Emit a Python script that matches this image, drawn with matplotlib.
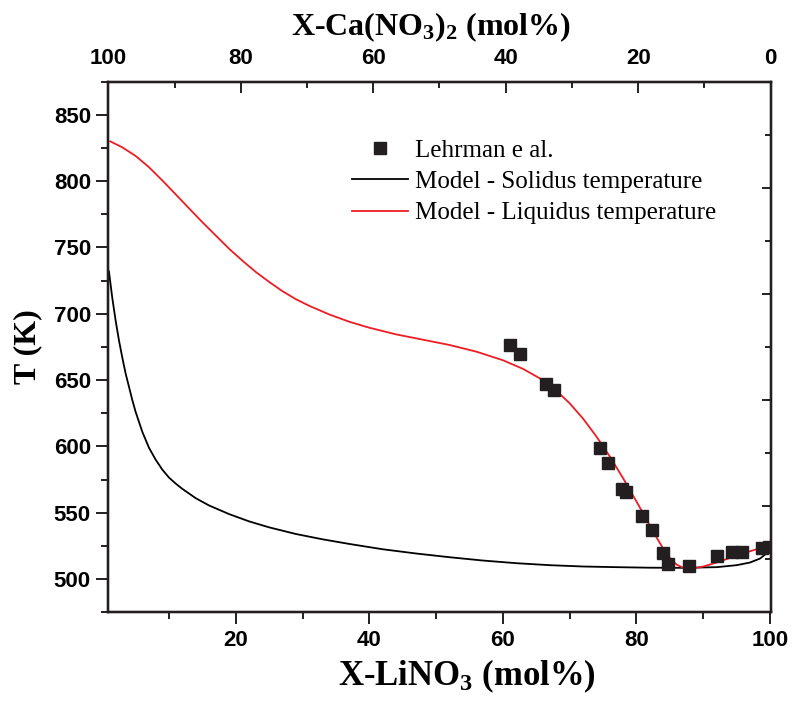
import numpy as np
import matplotlib
matplotlib.use("Agg")
import matplotlib.pyplot as plt
from matplotlib.ticker import MultipleLocator

# LiNO3 - Ca(NO3)2 phase diagram: model curves vs. Lehrman et al. data

# experimental points (Lehrman e al.)
exp_x = [61.0, 62.6, 66.5, 67.6, 74.6, 75.7, 77.9, 78.5, 80.8, 82.4,
         84.0, 84.7, 87.9, 92.0, 94.3, 95.8, 98.8, 99.8]
exp_T = [676.4, 669.7, 647.1, 642.6, 599.1, 587.8, 567.6, 565.3, 547.3, 536.8,
         519.5, 511.3, 509.8, 517.3, 520.3, 520.3, 523.3, 524.0]

# model - solidus
sol_x = [1, 1.5, 2, 2.5, 3, 3.5, 4, 4.5, 5, 6, 7, 8, 9, 10, 11, 12, 14, 16,
         19, 22, 25, 29, 33, 37, 42, 47, 52, 57, 62, 67, 72, 77, 82, 87, 92,
         95, 97, 98.5, 99.5, 100]
sol_T = [732, 712, 695, 680, 667, 655, 645, 635, 626, 611, 599, 590, 582.5,
         576.5, 572, 568, 561, 555.5, 549, 543.5, 539, 534, 530, 526.5, 522.5,
         519.3, 516.5, 514, 512, 510.5, 509.5, 509, 508.6, 508.5, 509, 510.5,
         512.5, 515.5, 519.5, 523]

# model - liquidus
liq_x = [1.2, 3, 5, 7, 9, 11, 13, 15, 17, 19, 21, 23, 25, 27, 29, 31, 34, 37,
         40, 44, 48, 52, 56, 60, 63, 66, 68, 70, 72, 74, 76, 78, 80, 82, 83, 84,
         85, 86, 87, 88, 89, 90, 92, 94, 96, 98, 100]
liq_T = [830, 825.5, 819, 810.5, 800.5, 790, 779.5, 769, 759, 749, 740, 731.5,
         724, 717, 711, 706, 699.5, 694, 689.5, 684.5, 680.5, 676.5, 671.5, 665,
         658.5, 650, 642, 632.5, 621, 607.5, 592.5, 576, 558.5, 540.5, 531.5, 523,
         516, 511, 508.5, 508, 508.5, 509.5, 512.5, 516, 519.5, 522.5, 525]

x_ticks = [20, 40, 60, 80, 100]
top_ticks = [100, 80, 60, 40, 20, 0]
y_ticks = [500, 550, 600, 650, 700, 750, 800, 850]

plt.rcParams['mathtext.fontset'] = 'custom'
plt.rcParams['mathtext.rm'] = 'Liberation Serif:bold'
plt.rcParams['mathtext.bf'] = 'Liberation Serif:bold'
plt.rcParams['mathtext.it'] = 'Liberation Serif:bold'

tick_font = dict(family='Liberation Sans', weight='bold', size=16)
label_font = dict(family='Liberation Serif', weight='bold', size=23)

fig = plt.figure(figsize=(7.92, 7.04), dpi=100)
ax = fig.add_axes([0.1367, 0.1303, 0.9731 - 0.1367, 0.884 - 0.1303])

ax.plot(exp_x, exp_T, 's', color='#231f20', markersize=8.4, label='Lehrman e al.', zorder=3)
ax.plot(sol_x, sol_T, '-', color='#000000', lw=1.3, label='Model - Solidus temperature')
ax.plot(liq_x, liq_T, '-', color='#ee1c24', lw=1.3, label='Model - Liquidus temperature')

ax.set_xlim(0.9, 100.1)
ax.set_ylim(475, 875)

ax.set_xticks(x_ticks)
ax.set_xticklabels([str(v) for v in x_ticks], fontdict=tick_font)
ax.xaxis.set_minor_locator(MultipleLocator(10))
ax.set_yticks(y_ticks)
ax.set_yticklabels([str(v) for v in y_ticks], fontdict=tick_font)
ax.yaxis.set_minor_locator(MultipleLocator(25))
ax.tick_params(which='major', direction='out', length=8.5, width=1.4, color='#231f20', pad=4)
ax.tick_params(which='minor', direction='out', length=5, width=1.4, color='#231f20')

ax.set_xlabel('X-LiNO$_3$ (mol%)', fontdict=dict(label_font, size=25))
ax.xaxis.set_label_coords(0.542, -0.085)
ax.set_ylabel('T (K)', fontdict=label_font, labelpad=8)

for s in ax.spines.values():
    s.set_linewidth(1.6)
    s.set_color('#231f20')

# top axis: Ca(NO3)2 content
top = ax.twiny()
top.set_xlim(100, 0)
top.set_xticks(top_ticks)
top.set_xticklabels([str(v) for v in top_ticks], fontdict=tick_font)
top.xaxis.set_minor_locator(MultipleLocator(10))
top.tick_params(which='major', direction='in', length=8, width=1.4, color='#231f20', pad=9)
top.tick_params(which='minor', direction='in', length=4.5, width=1.4, color='#231f20')
top.set_xlabel('X-Ca(NO$_3$)$_2$ (mol%)', fontdict=label_font)
top.xaxis.set_label_coords(0.487, 1.087)

# right axis: ticks only
right = ax.twinx()
right.set_ylim(0, 10)
right.set_yticks([0, 2, 4, 6, 8, 10])
right.set_yticklabels([])
right.yaxis.set_minor_locator(MultipleLocator(1))
right.tick_params(which='major', direction='in', length=6.5, width=1.4, color='#231f20')
right.tick_params(which='minor', direction='in', length=4, width=1.4, color='#231f20')

for a in (top, right):
    for s in a.spines.values():
        s.set_linewidth(1.6)
        s.set_color('#231f20')

ax.legend(loc='upper left', bbox_to_anchor=(0.444, 0.802), bbox_transform=fig.transFigure,
          frameon=False, prop=dict(family='Liberation Serif', size=18),
          handlelength=2.25, handletextpad=0.3, labelspacing=0.35, borderpad=0,
          borderaxespad=0)

fig.savefig('out.png', dpi=100)
